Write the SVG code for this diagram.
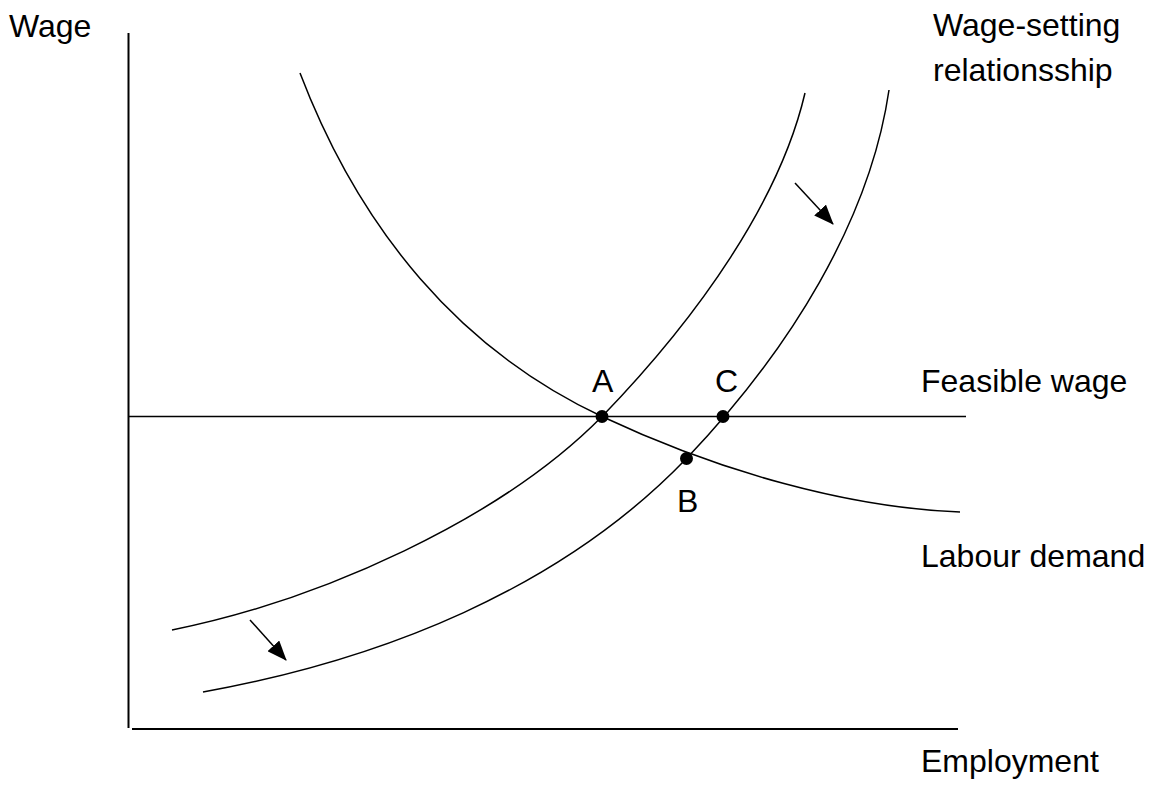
<svg xmlns="http://www.w3.org/2000/svg" width="1160" height="790" viewBox="0 0 1160 790">
<style>
.ax{stroke:#000;stroke-width:2;fill:none}
.cv{stroke:#000;stroke-width:1.5;fill:none}
.ar{stroke:#000;stroke-width:1.5;fill:none;marker-end:url(#ah)}
.t{font-family:"Liberation Sans",Arial,sans-serif;font-size:32px;fill:#000}
.dot{fill:#000}
</style>
<defs>
<marker id="ah" markerWidth="20" markerHeight="16" refX="19" refY="8" orient="auto" markerUnits="userSpaceOnUse">
<path d="M0,0 L20,8 L0,16 Z" fill="#000"/>
</marker>
</defs>
<rect width="1160" height="790" fill="#fff"/>
<g id="axes">
<line class="ax" x1="128.5" y1="33" x2="128.5" y2="728"/>
<line class="ax" x1="132" y1="729" x2="958" y2="729"/>
</g>
<g id="connectors">
<line id="feasible-line" class="cv" x1="128" y1="416.5" x2="966" y2="416.5"/>
<path id="labour-demand" class="cv" d="M300,73 C360,230 460,350 602,416.5 C720,472 850,508 960,512"/>
<path id="ws1" class="cv" d="M172,630 C320,600 500,520 602,416.5 C700,315 780,200 805,93"/>
<path id="ws2" class="cv" d="M203,692 C380,660 560,590 686.5,458.5 C790,350 870,220 889,90"/>
<line class="ar" x1="795" y1="183" x2="833" y2="224"/>
<line class="ar" x1="250" y1="620" x2="286" y2="660"/>
</g>
<g id="point-A"><circle class="dot" cx="602" cy="416.5" r="6.5"/><text class="t" x="592" y="392">A</text></g>
<g id="point-C"><circle class="dot" cx="723" cy="416.5" r="6.5"/><text class="t" x="715" y="392">C</text></g>
<g id="point-B"><circle class="dot" cx="686.5" cy="458.5" r="6.5"/><text class="t" x="677" y="512">B</text></g>
<g id="labels">
<text class="t" x="9" y="37" font-size="33">Wage</text>
<text class="t" x="933" y="36">Wage-setting</text>
<text class="t" x="933" y="81">relationsship</text>
<text class="t" x="921" y="392">Feasible wage</text>
<text class="t" x="921" y="567">Labour demand</text>
<text class="t" x="921" y="772">Employment</text>
</g>
</svg>
